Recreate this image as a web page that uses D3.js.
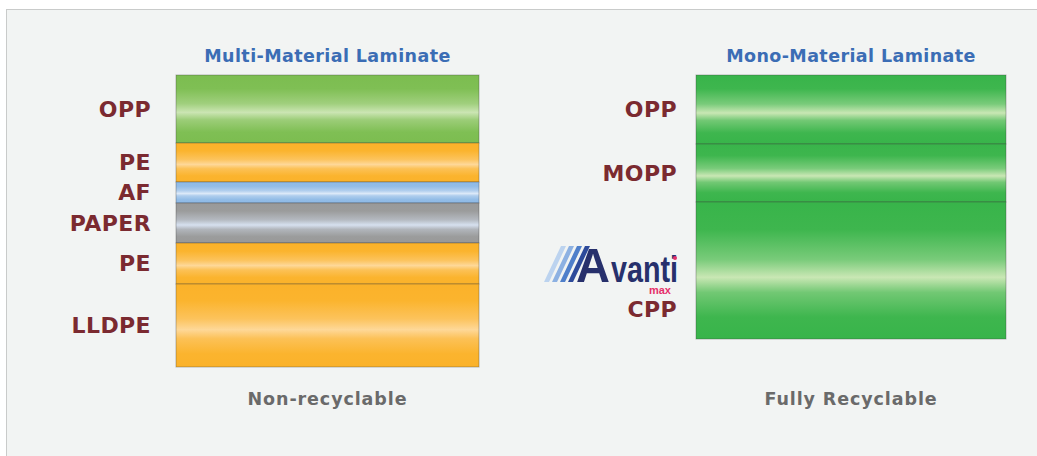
<!DOCTYPE html>
<html>
<head>
<meta charset="utf-8">
<script src="https://cdn.jsdelivr.net/npm/d3@7"></script>
<style>
  body { margin: 0; background: #ffffff; }
  svg { display: block; }
</style>
</head>
<body>
<svg id="chart" width="1037" height="456"></svg>
<script>
// layers, top to bottom, relative thickness
var leftLayers = ["OPP", "PE", "AF", "PAPER", "PE", "LLDPE"];
var leftThickness = [68, 39, 21, 40, 41, 83];
var leftMaterial = ["opp", "pe", "af", "paper", "pe", "pe"];

var rightLayers = ["OPP", "MOPP", "CPP"];
var rightThickness = [69, 58, 137];
var rightMaterial = ["mono", "mono", "mono"];

var titles = ["Multi-Material Laminate", "Mono-Material Laminate"];
var captions = ["Non-recyclable", "Fully Recyclable"];

// base / highlight colours of each material band
var palette = {
    opp:   ["#7cbd50", "#cbe5b3"],
    pe:    ["#fbb22a", "#fed898"],
    af:    ["#8fbae6", "#dce9f8"],
    paper: ["#999999", "#d6e0ef"],
    mono:  ["#38b44a", "#c9e7b4"]
};

var svg = d3.select("#chart");

// panel background
svg.append("rect")
    .attr("x", 6.5).attr("y", 9.5)
    .attr("width", 1040).attr("height", 460)
    .attr("fill", "#f2f4f3")
    .attr("stroke", "#c9cbca");

var defs = svg.append("defs");
Object.keys(palette).forEach(function(k) {
    var base = palette[k][0], light = palette[k][1];
    var mix = d3.interpolateRgb(base, light);
    var g = defs.append("linearGradient")
        .attr("id", "grad-" + k)
        .attr("x1", 0).attr("y1", 0).attr("x2", 0).attr("y2", 1);
    [[0, 0], [0.2, 0.04], [0.42, 0.45], [0.55, 1], [0.66, 0.4], [0.84, 0.04], [1, 0]]
        .forEach(function(s) {
            g.append("stop").attr("offset", s[0]).attr("stop-color", mix(s[1]));
        });
});

// one scale for thickness, shared by both stacks
var y = d3.scaleLinear()
    .domain([0, d3.sum(leftThickness)])
    .range([75, 367]);

var panels = [
    {x0: 176, x1: 479, labelX: 151, layers: leftLayers, thick: leftThickness, mat: leftMaterial},
    {x0: 696, x1: 1006, labelX: 677, layers: rightLayers, thick: rightThickness, mat: rightMaterial}
];

panels.forEach(function(p, pi) {
    var data = p.layers.map(function(name, i) {
        var start = d3.sum(p.thick.slice(0, i));
        return {name: name, start: start, end: start + p.thick[i], mat: p.mat[i]};
    });
    var cx = (p.x0 + p.x1) / 2;
    var g = svg.append("g");

    g.selectAll("rect.layer")
        .data(data)
        .enter()
        .append("rect")
            .attr("class", "layer")
            .attr("x", p.x0)
            .attr("y", function(d) { return y(d.start); })
            .attr("width", p.x1 - p.x0)
            .attr("height", function(d) { return y(d.end) - y(d.start); })
            .attr("fill", function(d) { return "url(#grad-" + d.mat + ")"; })
            .attr("stroke", "rgba(60,60,60,0.35)")
            .attr("stroke-width", 1);

    g.selectAll("text.lbl")
        .data(data)
        .enter()
        .append("text")
            .attr("class", "lbl")
            .attr("x", p.labelX)
            .attr("y", function(d, i) {
                // CPP label sits low to make room for the logo
                if (pi === 1 && i === data.length - 1) return y(d.end) - 30;
                return (y(d.start) + y(d.end)) / 2;
            })
            .attr("dy", "0.36em")
            .attr("text-anchor", "end")
            .style("font-family", "'DejaVu Sans', sans-serif")
            .style("font-weight", "bold")
            .style("font-size", "22px")
            .style("letter-spacing", "0.4px")
            .style("fill", "#7b2a30")
            .text(function(d) { return d.name; });

    g.append("text")
        .attr("x", cx).attr("y", 56).attr("dy", "0.36em")
        .attr("text-anchor", "middle")
        .style("font-family", "'DejaVu Sans', sans-serif")
        .style("font-weight", "bold")
        .style("font-size", "17.5px")
        .style("letter-spacing", "0.4px")
        .style("fill", "#3b6db5")
        .text(titles[pi]);

    g.append("text")
        .attr("x", cx).attr("y", 399).attr("dy", "0.36em")
        .attr("text-anchor", "middle")
        .style("font-family", "'DejaVu Sans', sans-serif")
        .style("font-weight", "bold")
        .style("font-size", "17.5px")
        .style("letter-spacing", "0.9px")
        .style("fill", "#6a6a6a")
        .text(captions[pi]);
});

// Avanti max logo above the CPP label
var cppY = y(d3.sum(rightThickness)) - 30;
var logo = svg.append("g").attr("transform", "translate(0," + (cppY - 27) + ")");
var stripeCols = ["#bcd3ef", "#8db1e2", "#4f7fca", "#2d4a9a"];
stripeCols.forEach(function(c, i) {
    var bx = 544 + i * 8;
    logo.append("path")
        .attr("d", "M" + bx + ",0 L" + (bx + 5) + ",0 L" + (bx + 22) + ",-36 L" + (bx + 17) + ",-36 Z")
        .attr("fill", c);
});
logo.append("text")
    .attr("x", 576).attr("y", 0)
    .attr("textLength", 34)
    .attr("lengthAdjust", "spacingAndGlyphs")
    .style("font-family", "'Liberation Sans', Arial, sans-serif")
    .style("font-weight", "bold")
    .style("font-size", "49px")
    .style("fill", "#27306c")
    .text("A");
logo.append("text")
    .attr("x", 611).attr("y", 0)
    .attr("textLength", 67)
    .attr("lengthAdjust", "spacingAndGlyphs")
    .style("font-family", "'Liberation Sans', Arial, sans-serif")
    .style("font-weight", "bold")
    .style("font-size", "37px")
    .style("fill", "#27306c")
    .text("vanti");
logo.append("circle")
    .attr("cx", 675).attr("cy", -24).attr("r", 2)
    .attr("fill", "#e5306a");
logo.append("text")
    .attr("x", 671).attr("y", 12)
    .attr("text-anchor", "end")
    .style("font-family", "'Liberation Sans', Arial, sans-serif")
    .style("font-weight", "bold")
    .style("font-size", "11px")
    .style("fill", "#e5306a")
    .text("max");
</script>
</body>
</html>
